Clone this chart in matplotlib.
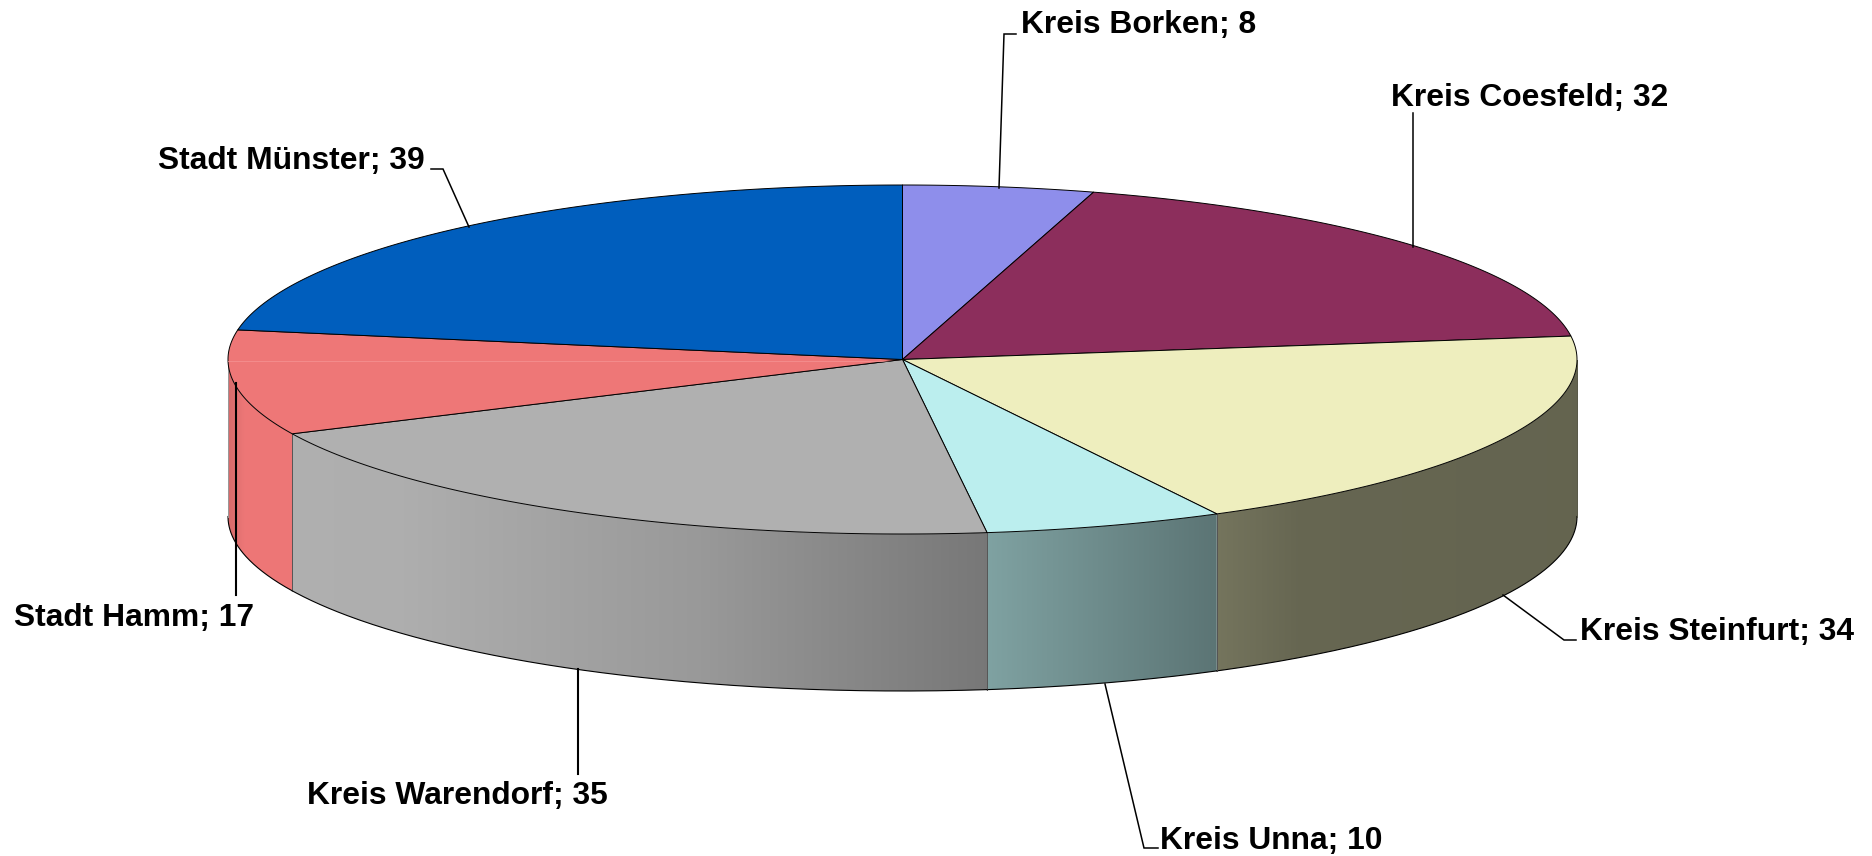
import numpy as np
import matplotlib
matplotlib.use('Agg')
import matplotlib.pyplot as plt
from matplotlib.patches import Polygon

# slices, clockwise from 12 o'clock
names = ['Kreis Borken', 'Kreis Coesfeld', 'Kreis Steinfurt', 'Kreis Unna',
         'Kreis Warendorf', 'Stadt Hamm', 'Stadt Münster']
values = [8, 32, 34, 10, 35, 17, 39]

top_colors = ['#8E8EEB', '#8C2E5C', '#EEEEBE', '#BBEEEE', '#B0B0B0', '#EE7777', '#005EBD']

# pie geometry in pixels
cx, cy = 902.5, 359.5
rx, ry = 674.5, 174.5
depth = 157

# side shading against screen x
shade_x = [228, 245, 400, 700, 987, 1217, 1300, 1577]
shade_f = [0.90, 1.0, 0.99, 0.87, 0.68, 0.49, 0.43, 0.42]

# label text (left x, baseline y), leader line points and widths
label_pos = [(1021, 33), (1391, 106), (1580, 640), (1160, 849), (307, 804), (14, 626), (158, 169)]
leaders = [
    [(999, 188), (1004, 34), (1016, 34)],
    [(1413, 247), (1413, 113)],
    [(1503, 595), (1564, 640), (1576, 640)],
    [(1105, 684), (1144, 848), (1158, 848)],
    [(578, 669), (578, 774)],
    [(236, 383), (236, 595)],
    [(469, 227), (443, 169), (431, 169)],
]
leader_lw = [1.1, 1.1, 1.1, 1.1, 1.5, 1.5, 1.1]


def rim(t):
    return cx + rx * np.sin(t), cy - ry * np.cos(t)


fig = plt.figure(figsize=(18.72, 8.56), dpi=100)
ax = fig.add_axes([0, 0, 1, 1])
ax.set_xlim(0, 1872)
ax.set_ylim(856, 0)
ax.axis('off')

edges = np.cumsum([0] + values) / sum(values) * 2 * np.pi

# side walls first
for i in range(len(values)):
    t0, t1 = max(edges[i], np.pi / 2), min(edges[i + 1], 3 * np.pi / 2)
    if t1 <= t0:
        continue
    t = np.linspace(t0, t1, 200)
    x, y = rim(t)
    pts = np.r_[np.c_[x, y], np.c_[x, y + depth][::-1]]
    wall = Polygon(pts, closed=True, fc='none', ec='none', transform=ax.transData)
    ax.add_patch(wall)

    xs = np.arange(np.floor(x.min()), np.ceil(x.max()) + 1)
    f = np.interp(xs, shade_x, shade_f)
    rgb = np.array(matplotlib.colors.to_rgb(top_colors[i]))
    img = (f[:, None] * rgb)[None, :, :]
    im = ax.imshow(img, extent=(xs[0], xs[-1], y.max() + depth, y.min()),
                   aspect='auto', interpolation='bilinear', zorder=1)
    im.set_clip_path(wall)

    ax.plot(x, y + depth, color='black', lw=0.8, zorder=2)
    if edges[i + 1] < 3 * np.pi / 2:
        ax.plot([x[-1], x[-1]], [y[-1], y[-1] + depth], color='#555555', lw=0.7, zorder=2)

ax.set_xlim(0, 1872)
ax.set_ylim(856, 0)

x_l, y_l = rim(np.array([3 * np.pi / 2]))
ax.plot([x_l[0], x_l[0]], [y_l[0], y_l[0] + depth], color='#999999', lw=0.7, zorder=2)
x_r, y_r = rim(np.array([np.pi / 2]))
ax.plot([x_r[0], x_r[0]], [y_r[0], y_r[0] + depth], color='#555544', lw=0.7, zorder=2)

# top face
for i in range(len(values)):
    t = np.linspace(edges[i], edges[i + 1], 200)
    x, y = rim(t)
    pts = np.r_[[(cx, cy)], np.c_[x, y]]
    top = Polygon(pts, closed=True, fc=top_colors[i], ec='black', lw=0.7,
                  joinstyle='round', zorder=3)
    ax.add_patch(top)
    if names[i] == 'Stadt Hamm':
        # pale seam across the slice
        seam, = ax.plot([x.min(), cx], [cy + 1.5, cy + 1.5], color='#F59090', lw=0.6, zorder=4)
        seam.set_clip_path(top)

# leader lines and labels
for i in range(len(values)):
    lx, ly = zip(*leaders[i])
    ax.plot(lx, ly, color='black', lw=leader_lw[i], zorder=5, solid_joinstyle='miter')
    ax.text(label_pos[i][0], label_pos[i][1], f'{names[i]}; {values[i]}',
            family='Liberation Sans', weight='bold', fontsize=22.9,
            ha='left', va='baseline', color='black', zorder=6)

fig.savefig('out.png', dpi=100, facecolor='white')
